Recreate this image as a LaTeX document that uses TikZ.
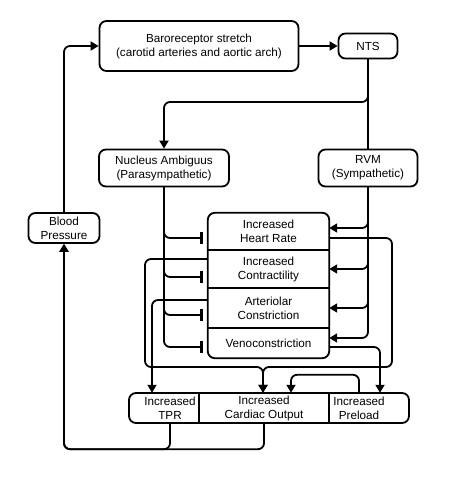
\documentclass[tikz,border=0pt]{standalone}
\usepackage{fontspec}
\setmainfont{Liberation Sans}
\usetikzlibrary{arrows.meta}

\tikzset{
  box/.style={draw, line width=1.8pt, rounded corners=7pt, align=center, inner sep=0pt},
  cell/.style={align=center, inner sep=0pt},
  wire/.style={line width=1.8pt},
  arr/.style={wire, rounded corners=6pt, -{Triangle[length=8pt,width=9pt]}},
  inh/.style={wire, rounded corners=6pt, -{Bar[width=12pt,line width=2.6pt]}, shorten >=5pt},
}

\begin{document}
\begin{tikzpicture}[x=1pt,y=-1pt,font=\fontsize{11.7}{14}\selectfont]
\useasboundingbox (0,0) rectangle (469,492);
% brain stem
\node[box,minimum width=199pt,minimum height=50pt] (baro) at (199,46) {Baroreceptor stretch\\(carotid arteries and aortic arch)};
\node[box,minimum width=59pt,minimum height=25pt] (nts) at (368,46) {NTS};
\node[box,minimum width=130pt,minimum height=37pt] (nucleus) at (164,168) {Nucleus Ambiguus\\(Parasympathetic)};
\node[box,minimum width=99pt,minimum height=37pt] (rvm) at (368,168) {RVM\\(Sympathetic)};
\node[box,minimum width=71pt,minimum height=30pt] (bp) at (64,228) {Blood\\Pressure};
% effectors
\node[cell,minimum width=121pt,minimum height=37pt] (hr) at (268.5,231.5) {Increased\\Heart Rate};
\node[cell,minimum width=121pt,minimum height=38pt] (contr) at (268.5,269) {Increased\\Contractility};
\node[cell,minimum width=121pt,minimum height=40pt] (art) at (268.5,308) {Arteriolar\\Constriction};
\node[cell,minimum width=121pt,minimum height=30pt] (veno) at (268.5,343) {Venoconstriction};
\draw[wire,rounded corners=7pt] (hr.north west) rectangle (veno.south east);
\foreach \c in {hr,contr,art} \draw[wire] (\c.south west) -- (\c.south east);
% outputs
\node[cell,minimum height=30pt] (tpr) at (170,408) {Increased\\TPR};
\node[cell,minimum height=30pt] (co) at (264,408) {Increased\\Cardiac Output};
\node[cell,minimum height=30pt] (pre) at (359,408) {Increased\\Preload};
\draw[wire,rounded corners=7pt] (129,393) rectangle (409,423);
\draw[wire] (199,393) -- (199,423) (329,393) -- (329,423);

\draw[arr] (baro) -- (nts);
\coordinate (split) at (368,102);
\draw[arr] (nts.south) -- (split) -| (nucleus.north);
\draw[wire] (nts.south) -- (rvm.north);
\foreach \c/\dy in {hr/6.5,contr/8,art/7,veno/4}
  \draw[inh] (nucleus.south) |- ([yshift=-\dy pt]\c.west);
\foreach \c/\dy in {hr/3.5,contr/0,art/0,veno/5}
  \draw[arr] (rvm.south) |- ([yshift=\dy pt]\c.east);
\draw[arr] ([yshift=-6.5pt]hr.east) -| (392,367) -| ([xshift=-1pt]co.north);
\draw[arr] ([yshift=10pt]contr.west) -| (145,367) -| ([xshift=-1pt]co.north);
\draw[arr] ([yshift=8pt]art.west) -| ([xshift=-18pt]tpr.north);
\draw[arr] ([yshift=-4pt]veno.east) -| ([xshift=21pt]pre.north);
\draw[arr] (pre.north) -- ++(0,-18) -| ([xshift=27pt]co.north);
\draw[arr] (tpr.south) -- ++(0,26) -| (bp.south);
\draw[arr] (co.south) -- ++(0,26) -| (bp.south);
\draw[arr] (bp.north) |- (baro.west);
\end{tikzpicture}
\end{document}
